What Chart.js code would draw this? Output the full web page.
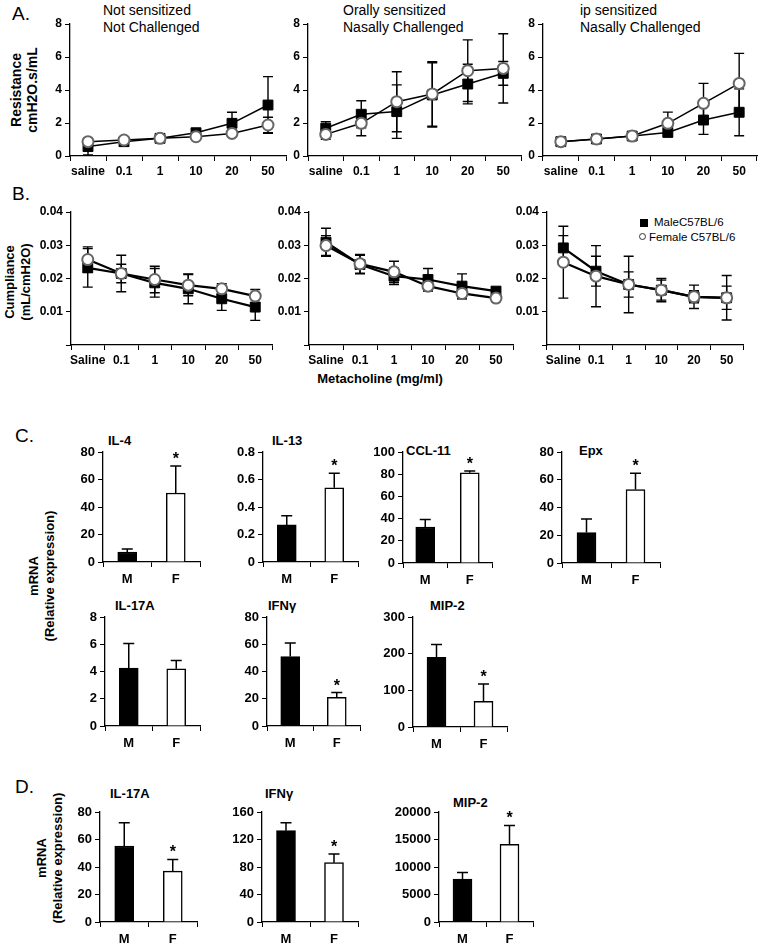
<!DOCTYPE html>
<html>
<head>
<meta charset="utf-8">
<script src="https://cdn.jsdelivr.net/npm/chart.js@4.4.0/dist/chart.umd.min.js"></script>
<style>
  body { margin: 0; background: #fff; width: 760px; height: 947px; position: relative; overflow: hidden;
         font-family: 'Liberation Sans', Arial, sans-serif; color: #000; }
  canvas { position: absolute; }
  .t { position: absolute; white-space: nowrap; }
  .rot { position: absolute; white-space: nowrap; text-align: center; font-weight: bold;
         transform: translate(-50%, -50%) rotate(-90deg); }
  .ttl { position: absolute; white-space: nowrap; font-weight: bold; font-size: 13px; transform: translateY(-50%); }
  .panel { position: absolute; font-size: 19px; }
</style>
</head>
<body>

<div class="panel" style="left:12px;top:3px">A.</div>
<div class="t" style="left:103px;top:2px;font-size:14px;line-height:17px">Not sensitized<br>Not Challenged</div>
<div class="t" style="left:343px;top:2px;font-size:14px;line-height:17px">Orally sensitized<br>Nasally Challenged</div>
<div class="t" style="left:580px;top:2px;font-size:14px;line-height:17px">ip sensitized<br>Nasally Challenged</div>
<div class="rot" style="left:24px;top:90px;font-size:14px;line-height:16px">Resistance<br>cmH2O.s/mL</div>

<div class="panel" style="left:12px;top:183px">B.</div>
<div class="rot" style="left:18px;top:282px;font-size:13px;line-height:16px">Cumpliance<br>(mL/cmH2O)</div>
<div class="t" style="left:380px;top:378px;font-size:13px;font-weight:bold;transform:translate(-50%,-50%)">Metacholine (mg/ml)</div>
<div class="t" style="left:640px;top:222px;font-size:11.5px;transform:translateY(-50%)"><span style="display:inline-block;width:8px;height:8px;background:#000;margin-right:6px;vertical-align:-1px"></span>MaleC57BL/6</div>
<div class="t" style="left:639px;top:237px;font-size:11.5px;transform:translateY(-50%)"><span style="display:inline-block;width:5px;height:5px;border:1.5px solid #333;border-radius:50%;margin-right:3px;vertical-align:1px"></span>Female C57BL/6</div>

<div class="panel" style="left:15px;top:425px">C.</div>
<div class="rot" style="left:42px;top:576px;font-size:13px;line-height:16px">mRNA<br>(Relative expression)</div>
<div class="ttl" style="left:108px;top:440px">IL-4</div>
<div class="ttl" style="left:272px;top:440px">IL-13</div>
<div class="ttl" style="left:406px;top:450px">CCL-11</div>
<div class="ttl" style="left:579px;top:450px">Epx</div>
<div class="ttl" style="left:115px;top:605px">IL-17A</div>
<div class="ttl" style="left:268px;top:605px">IFNγ</div>
<div class="ttl" style="left:430px;top:605px">MIP-2</div>

<div class="panel" style="left:15px;top:776px">D.</div>
<div class="rot" style="left:50px;top:858px;font-size:13px;line-height:16px">mRNA<br>(Relative expression)</div>
<div class="ttl" style="left:110px;top:793px">IL-17A</div>
<div class="ttl" style="left:265px;top:793px">IFNγ</div>
<div class="ttl" style="left:453px;top:802px">MIP-2</div>

<canvas id="a1"></canvas><canvas id="a2"></canvas><canvas id="a3"></canvas>
<canvas id="b1"></canvas><canvas id="b2"></canvas><canvas id="b3"></canvas>
<canvas id="c1"></canvas><canvas id="c2"></canvas><canvas id="c3"></canvas><canvas id="c4"></canvas>
<canvas id="c5"></canvas><canvas id="c6"></canvas><canvas id="c7"></canvas>
<canvas id="d1"></canvas><canvas id="d2"></canvas><canvas id="d3"></canvas>

<script>
// categories
const doseLabelsA = ['saline', '0.1', '1', '10', '20', '50'];
const doseLabelsB = ['Saline', '0.1', '1', '10', '20', '50'];
const sexLabels = ['M', 'F'];

// A. resistance (cmH2O.s/mL)
const resNSMale      = [0.57, 0.87, 1.07, 1.41, 1.98, 3.09];
const resNSMaleErr   = [0.50, 0.08, 0.08, 0.15, 0.67, 1.72];
const resNSFemale    = [0.87, 0.97, 1.07, 1.17, 1.37, 1.88];
const resNSFemaleErr = [0.08, 0.08, 0.08, 0.10, 0.12, 0.47];

const resOSMale      = [1.68, 2.53, 2.69, 3.70, 4.36, 5.01];
const resOSMaleErr   = [0.40, 0.82, 1.62, 1.95, 1.20, 0.72];
const resOSFemale    = [1.31, 1.98, 3.29, 3.76, 5.17, 5.31];
const resOSFemaleErr = [0.30, 0.75, 1.82, 1.96, 1.87, 2.10];

const resIPMale      = [0.87, 1.03, 1.21, 1.43, 2.18, 2.65];
const resIPMaleErr   = [0.08, 0.08, 0.20, 0.25, 0.87, 1.42];
const resIPFemale    = [0.87, 1.03, 1.21, 1.98, 3.19, 4.40];
const resIPFemaleErr = [0.08, 0.08, 0.15, 0.68, 1.21, 1.82];

// B. compliance (mL/cmH2O)
const cmpNSMale      = [0.0232, 0.0215, 0.0187, 0.0169, 0.0139, 0.0114];
const cmpNSMaleErr   = [0.0058, 0.0055, 0.0043, 0.0045, 0.0035, 0.0040];
const cmpNSFemale    = [0.0257, 0.0215, 0.0197, 0.0180, 0.0169, 0.0147];
const cmpNSFemaleErr = [0.0038, 0.0028, 0.0040, 0.0032, 0.0015, 0.0020];

const cmpOSMale      = [0.0309, 0.0242, 0.0207, 0.0197, 0.0177, 0.0162];
const cmpOSMaleErr   = [0.0042, 0.0028, 0.0025, 0.0033, 0.0037, 0.0010];
const cmpOSFemale    = [0.0299, 0.0244, 0.0220, 0.0177, 0.0155, 0.0141];
const cmpOSFemaleErr = [0.0030, 0.0028, 0.0032, 0.0015, 0.0016, 0.0010];

const cmpIPMale      = [0.0292, 0.0222, 0.0182, 0.0165, 0.0145, 0.0142];
const cmpIPMaleErr   = [0.0037, 0.0045, 0.0038, 0.0030, 0.0018, 0.0035];
const cmpIPFemale    = [0.0249, 0.0207, 0.0182, 0.0165, 0.0145, 0.0142];
const cmpIPFemaleErr = [0.0108, 0.0092, 0.0085, 0.0035, 0.0035, 0.0067];

// C. lung mRNA, M / F
const il4Vals = [7.3, 50.2],     il4Err = [2.2, 19.6];
const il13Vals = [0.27, 0.54],   il13Err = [0.066, 0.105];
const ccl11Vals = [32.4, 81.3],  ccl11Err = [6.9, 1.5];
const epxVals = [22, 53],        epxErr = [9.8, 11.7];
const il17Vals = [4.25, 4.2],    il17Err = [1.8, 0.6];
const ifngVals = [51, 21],       ifngErr = [10, 3.5];
const mip2Vals = [190, 70],      mip2Err = [35, 47];

// D. mRNA, M / F
const il17DVals = [55.3, 37],    il17DErr = [16.9, 8.5];
const ifngDVals = [132.8, 86.3], ifngDErr = [11.7, 12.6];
const mip2DVals = [7800, 14100], mip2DErr = [1200, 3450];

const starF = [false, true];
const noStar = [false, false];

// layout: y-axis width, top/right padding, x-axis height
const YW = 60, PT = 14, PR = 10, XH = 30;

function setBox(id, x0, x1, yTop, yBot) {
  const cv = document.getElementById(id);
  const w = x1 - x0 + YW + PR;
  const h = yBot - yTop + PT + XH;
  cv.width = w; cv.height = h;
  cv.style.width = w + 'px'; cv.style.height = h + 'px';
  cv.style.left = (x0 - YW) + 'px';
  cv.style.top = (yTop - PT) + 'px';
  return cv;
}

// error bars (both directions for lines, upward only for bars) + asterisks
function drawErrors(chart, opts) {
  const ctx = chart.ctx;
  const y = chart.scales.y;
  const cap = opts.cap || 10;
  chart.data.datasets.forEach((ds, i) => {
    if (!ds.errors) return;
    const meta = chart.getDatasetMeta(i);
    ds.data.forEach((v, j) => {
      const px = meta.data[j].x;
      const top = y.getPixelForValue(v + ds.errors[j]);
      const bot = opts.both ? y.getPixelForValue(v - ds.errors[j]) : y.getPixelForValue(v);
      ctx.save();
      ctx.strokeStyle = '#000';
      ctx.lineWidth = opts.width || 1.3;
      ctx.beginPath();
      ctx.moveTo(px, top); ctx.lineTo(px, bot);
      ctx.moveTo(px - cap / 2, top); ctx.lineTo(px + cap / 2, top);
      if (opts.both) { ctx.moveTo(px - cap / 2, bot); ctx.lineTo(px + cap / 2, bot); }
      ctx.stroke();
      if (ds.stars && ds.stars[j]) {
        ctx.fillStyle = '#000';
        ctx.font = 'bold 16px "Liberation Sans", Arial';
        ctx.textAlign = 'center';
        ctx.textBaseline = 'alphabetic';
        ctx.fillText('*', px, top - 2);
      }
      ctx.restore();
    });
  });
}

const errorBars = {
  id: 'errorBars',
  beforeDatasetsDraw(chart, args, opts) { if (opts.both) drawErrors(chart, opts); },
  afterDatasetsDraw(chart, args, opts) { if (!opts.both) drawErrors(chart, opts); }
};

function axes(yMax, yStep, fontSize, fmt, xPad) {
  const font = { family: "'Liberation Sans', Arial", size: fontSize, weight: 'bold' };
  return {
    x: {
      offset: true,
      grid: { offset: true, drawOnChartArea: false, tickLength: 5, color: '#000', lineWidth: 1 },
      border: { color: '#000', width: 1.3 },
      ticks: { color: '#000', font: font, padding: xPad, maxRotation: 0, autoSkip: false },
      afterFit: s => { s.height = XH; }
    },
    y: {
      min: 0, max: yMax,
      grid: { drawOnChartArea: false, tickLength: 5, color: '#000', lineWidth: 1 },
      border: { color: '#000', width: 1.3 },
      ticks: { stepSize: yStep, color: '#000', font: font, padding: 3, callback: fmt },
      afterFit: s => { s.width = YW; }
    }
  };
}

function lineChart(id, box, labels, male, maleErr, female, femaleErr, yMax, yStep, lineW, fmt) {
  const cv = setBox(id, box[0], box[1], box[2], box[3]);
  return new Chart(cv, {
    type: 'line',
    data: {
      labels: labels,
      datasets: [
        { label: 'Female C57BL/6', data: female, errors: femaleErr, borderColor: '#000', borderWidth: lineW,
          pointStyle: 'circle', pointRadius: 5.5, pointBackgroundColor: '#fff', pointBorderColor: '#666', pointBorderWidth: 2 },
        { label: 'MaleC57BL/6', data: male, errors: maleErr, borderColor: '#000', borderWidth: lineW,
          pointStyle: 'rect', pointRadius: 7, pointBackgroundColor: '#000', pointBorderColor: '#000', pointBorderWidth: 1 }
      ]
    },
    options: {
      responsive: false, animation: false, devicePixelRatio: 1,
      layout: { padding: { top: PT, right: PR, left: 0, bottom: 0 } },
      plugins: { legend: { display: false }, tooltip: { enabled: false }, errorBars: { both: true, cap: 10, width: 1.4 } },
      scales: axes(yMax, yStep, 12, fmt, 3)
    },
    plugins: [errorBars]
  });
}

function barChart(id, box, vals, errs, stars, yMax, yStep) {
  const cv = setBox(id, box[0], box[1], box[2], box[3]);
  return new Chart(cv, {
    type: 'bar',
    data: {
      labels: sexLabels,
      datasets: [{ data: vals, errors: errs, stars: stars, backgroundColor: ['#000', '#fff'],
                   borderColor: '#000', borderWidth: 1.5, barThickness: 19 }]
    },
    options: {
      responsive: false, animation: false, devicePixelRatio: 1,
      layout: { padding: { top: PT, right: PR, left: 0, bottom: 0 } },
      plugins: { legend: { display: false }, tooltip: { enabled: false }, errorBars: { both: false, cap: 11, width: 1.5 } },
      scales: axes(yMax, yStep, 13, v => v, 5)
    },
    plugins: [errorBars]
  });
}

const fmtA = v => v;
// compliance axis shows no label at zero
const fmtB = v => v === 0 ? '' : v.toFixed(2);

lineChart('a1', [70, 286, 24, 156], doseLabelsA, resNSMale, resNSMaleErr, resNSFemale, resNSFemaleErr, 8, 2, 1.5, fmtA);
lineChart('a2', [308, 521, 24, 156], doseLabelsA, resOSMale, resOSMaleErr, resOSFemale, resOSFemaleErr, 8, 2, 1.5, fmtA);
lineChart('a3', [543, 757, 24, 156], doseLabelsA, resIPMale, resIPMaleErr, resIPFemale, resIPFemaleErr, 8, 2, 1.5, fmtA);

lineChart('b1', [71, 272, 212, 345], doseLabelsB, cmpNSMale, cmpNSMaleErr, cmpNSFemale, cmpNSFemaleErr, 0.04, 0.01, 2.2, fmtB);
lineChart('b2', [309, 513, 212, 345], doseLabelsB, cmpOSMale, cmpOSMaleErr, cmpOSFemale, cmpOSFemaleErr, 0.04, 0.01, 2.2, fmtB);
lineChart('b3', [547, 743, 212, 345], doseLabelsB, cmpIPMale, cmpIPMaleErr, cmpIPFemale, cmpIPFemaleErr, 0.04, 0.01, 2.2, fmtB);

barChart('c1', [103, 200, 452, 562], il4Vals, il4Err, starF, 80, 20);
barChart('c2', [263, 358, 452, 562], il13Vals, il13Err, starF, 0.8, 0.2);
barChart('c3', [403, 492, 452, 563], ccl11Vals, ccl11Err, starF, 100, 20);
barChart('c4', [562, 660, 452, 563], epxVals, epxErr, starF, 80, 20);
barChart('c5', [105, 200, 617, 726], il17Vals, il17Err, noStar, 8, 2);
barChart('c6', [267, 360, 617, 726], ifngVals, ifngErr, starF, 80, 20);
barChart('c7', [413, 507, 617, 727], mip2Vals, mip2Err, starF, 300, 100);

barChart('d1', [100, 197, 812, 922], il17DVals, il17DErr, starF, 80, 20);
barChart('d2', [262, 358, 812, 922], ifngDVals, ifngDErr, starF, 160, 40);
barChart('d3', [439, 533, 812, 922], mip2DVals, mip2DErr, starF, 20000, 5000);
</script>
</body>
</html>
